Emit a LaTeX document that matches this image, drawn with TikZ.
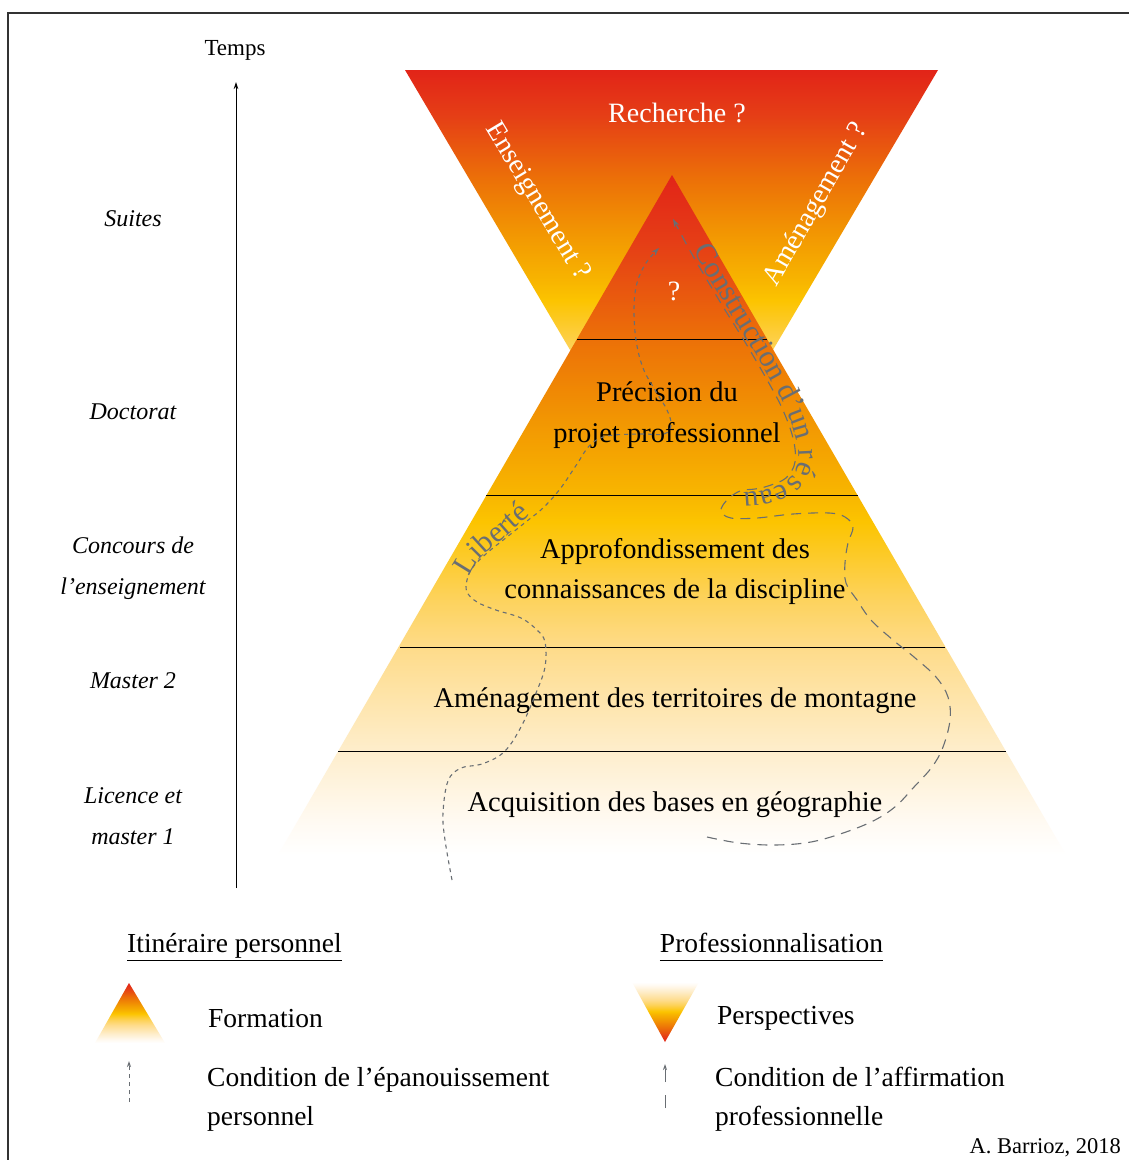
\documentclass[tikz,border=0pt]{standalone}
\usepackage{fontspec}
\setmainfont{Liberation Serif}
\usetikzlibrary{arrows.meta,decorations.text}
\definecolor{framecol}{RGB}{50,50,50}
\definecolor{pathgray}{RGB}{105,110,115}
\definecolor{sa}{RGB}{255,250,242}
\definecolor{sb}{RGB}{254,238,205}
\definecolor{sc}{RGB}{254,220,140}
\definecolor{sd}{RGB}{253,210,90}
\definecolor{se}{RGB}{252,196,0}
\definecolor{sf}{RGB}{248,182,0}
\definecolor{sg}{RGB}{242,150,2}
\definecolor{sh}{RGB}{236,112,8}
\definecolor{si}{RGB}{229,62,22}
\definecolor{sj}{RGB}{226,36,24}
\pgfdeclareverticalshading{fade}{100bp}{color(0bp)=(white); color(25bp)=(white); color(27.5bp)=(sa); color(32.5bp)=(sb); color(40bp)=(sc); color(44bp)=(sd); color(49.5bp)=(se); color(51.5bp)=(sf); color(57bp)=(sg); color(63bp)=(sh); color(70bp)=(si); color(75bp)=(sj); color(100bp)=(sj)}
\tikzset{
  lbl/.style={font=\fontsize{24}{28}\selectfont\itshape, anchor=base, inner sep=0pt},
  uplbl/.style={font=\fontsize{23}{28}\selectfont, anchor=base, inner sep=0pt},
  ptxt/.style={font=\fontsize{28.5}{32}\selectfont, anchor=base, inner sep=0pt},
  wtxt/.style={font=\fontsize{28}{32}\selectfont, text=white, inner sep=0pt},
  legtxt/.style={font=\fontsize{27.5}{32}\selectfont, anchor=base west, inner sep=0pt},
  sepline/.style={black, line width=0.9pt},
  persopath/.style={draw=pathgray, line width=1.1pt, dash pattern=on 4pt off 4pt},
  propath/.style={draw=pathgray, line width=1.1pt, dash pattern=on 10pt off 7pt},
  ptip/.style={-{Stealth[length=8pt,width=5.5pt]}},
}
\begin{document}
\begin{tikzpicture}[x=1pt,y=-1pt]
\useasboundingbox (0,0) rectangle (1129,1160);
\fill[white] (0,0) rectangle (1129,1160);
% frame
\draw[framecol, line width=1.2pt] (8,1165) -- (8,13) -- (1135,13);

% perspectives (inverted triangle)
\path[shading=fade] (405,70) -- (938,70) -- (671.5,522) -- cycle;
% formation (pyramid)
\path[shading=fade] (672,175) -- (1066,855) -- (278,855) -- cycle;

% separators
\draw[sepline] (577,339) -- (767,339);
\draw[sepline] (486,495) -- (858,495);
\draw[sepline] (400,647) -- (945,647);
\draw[sepline] (338,751) -- (1006,751);

% white texts
\node[wtxt, anchor=base] (rech) at (677,122) {Recherche ?};
\node[wtxt, rotate=-59] (ens) at (537,202) {Enseignement ?};
\node[wtxt, rotate=60] (amq) at (816,205) {Aménagement ?};
\node[wtxt, anchor=base] (qm) at (674,300) {?};

% pyramid texts
\node[ptxt] (prec1) at (667,401) {Précision du};
\node[ptxt] (prec2) at (667,442) {projet professionnel};
\node[ptxt] (app1) at (675,558) {Approfondissement des};
\node[ptxt] (app2) at (675,598) {connaissances de la discipline};
\node[ptxt] (amen) at (675,707) {Aménagement des territoires de montagne};
\node[ptxt] (acq) at (675,811) {Acquisition des bases en géographie};

% time axis
\coordinate (axb) at (236,888);
\coordinate (axt) at (236,82);
\draw[line width=0.9pt, -{Stealth[length=7pt,width=4.5pt]}] (axb) -- (axt);
\node[uplbl] (temps) at (235,55) {Temps};
\node[lbl] (suites) at (133,226) {Suites};
\node[lbl] (doct) at (133,419) {Doctorat};
\node[lbl] (conc1) at (133,553) {Concours de};
\node[lbl] (conc2) at (133,594) {l’enseignement};
\node[lbl] (mast2) at (133,688) {Master 2};
\node[lbl] (lic1) at (133,803) {Licence et};
\node[lbl] (lic2) at (133,844) {master 1};

% Liberte path
\coordinate (libs) at (452,880);
\coordinate (libe) at (659,248);
\draw[persopath, ptip] plot[smooth, tension=0.6] coordinates {(libs) (445,840) (443,813) (448,781) (461,768) (482,764) (504,752) (521,727) (536,693) (545,667) (545,642) (537,630) (521,618) (496,610) (477,602) (467,592) (467,580) (473,567) (487,553) (507,537) (527,521) (543,508) (560,489) (577,464) (590,445) (607,436) (640,434) (664,434) (671,425) (667,410) (655,390) (643,368) (636,340) (634,308) (637,283) (646,263) (libe)};
\path[decorate, decoration={text along path, text={|\fontsize{30}{33}\selectfont\color{pathgray}|Liberté}, text align=left, raise=3pt}] plot[smooth] coordinates {(471,578) (479,565) (493,551) (511,536) (529,520) (546,506) (563,488) (579,463)};

% Construction path
\coordinate (cons) at (707,837);
\coordinate (cone) at (673,219);
\draw[propath, ptip] plot[smooth, tension=0.6] coordinates {(cons) (739,843) (775,845) (811,842) (846,832) (875,820) (896,806) (914,787) (932,767) (943,747) (950,720) (948,697) (936,677) (914,657) (893,640) (871,620) (857,600) (846,583) (845,563) (848,543) (853,527) (845,517) (829,513) (793,514) (757,518) (731,518) (721,511) (727,500) (740,491) (755,489) (768,486) (786,478) (795,462) (793,438) (782,408) (766,378) (745,342) (722,305) (700,268) (688,247) (cone)};
\path[decorate, decoration={text along path, text={|\fontsize{30}{33}\selectfont\color{pathgray}|Construction d’un réseau}, text align=left, raise=3pt}] plot[smooth] coordinates {(691,251) (700,268) (722,305) (745,342) (766,378) (782,408) (793,438) (795,462) (786,478) (768,486) (755,489) (740,491) (727,500) (721,511)};

% legend
\node[legtxt, anchor=base] (hdr1) at (234.5,952) {Itinéraire personnel};
\draw[line width=0.9pt] ([yshift=-8pt]hdr1.base west) -- ([yshift=-8pt]hdr1.base east);
\node[legtxt, anchor=base] (hdr2) at (771.5,952) {Professionnalisation};
\draw[line width=0.9pt] ([yshift=-8pt]hdr2.base west) -- ([yshift=-8pt]hdr2.base east);

\path[shading=fade] (129,983) -- (165,1043) -- (95,1043) -- cycle;
\node[legtxt] (lform) at (208,1027) {Formation};
\coordinate (l1s) at (129,1102);
\coordinate (l1e) at (129,1061);
\draw[persopath, line width=1pt, -{Stealth[length=6pt,width=4pt]}] (l1s) -- (l1e);
\node[legtxt] (lcond1) at (207,1086) {Condition de l’épanouissement};
\node[legtxt] (lcond1b) at (207,1125) {personnel};

\path[shading=fade, shading angle=180] (632,982) -- (699,982) -- (665,1042) -- cycle;
\node[legtxt] (lpersp) at (717,1024) {Perspectives};
\coordinate (l2s) at (665,1108);
\coordinate (l2e) at (665,1064);
\draw[propath, line width=1pt, dash pattern=on 13pt off 13pt, -{Stealth[length=6pt,width=4pt]}] (l2s) -- (l2e);
\node[legtxt] (lcond2) at (715,1086) {Condition de l’affirmation};
\node[legtxt] (lcond2b) at (715,1125) {professionnelle};

\node[font=\fontsize{22.5}{26}\selectfont, anchor=base east, inner sep=0pt] (auth) at (1121,1153) {A. Barrioz, 2018};
\end{tikzpicture}
\end{document}
